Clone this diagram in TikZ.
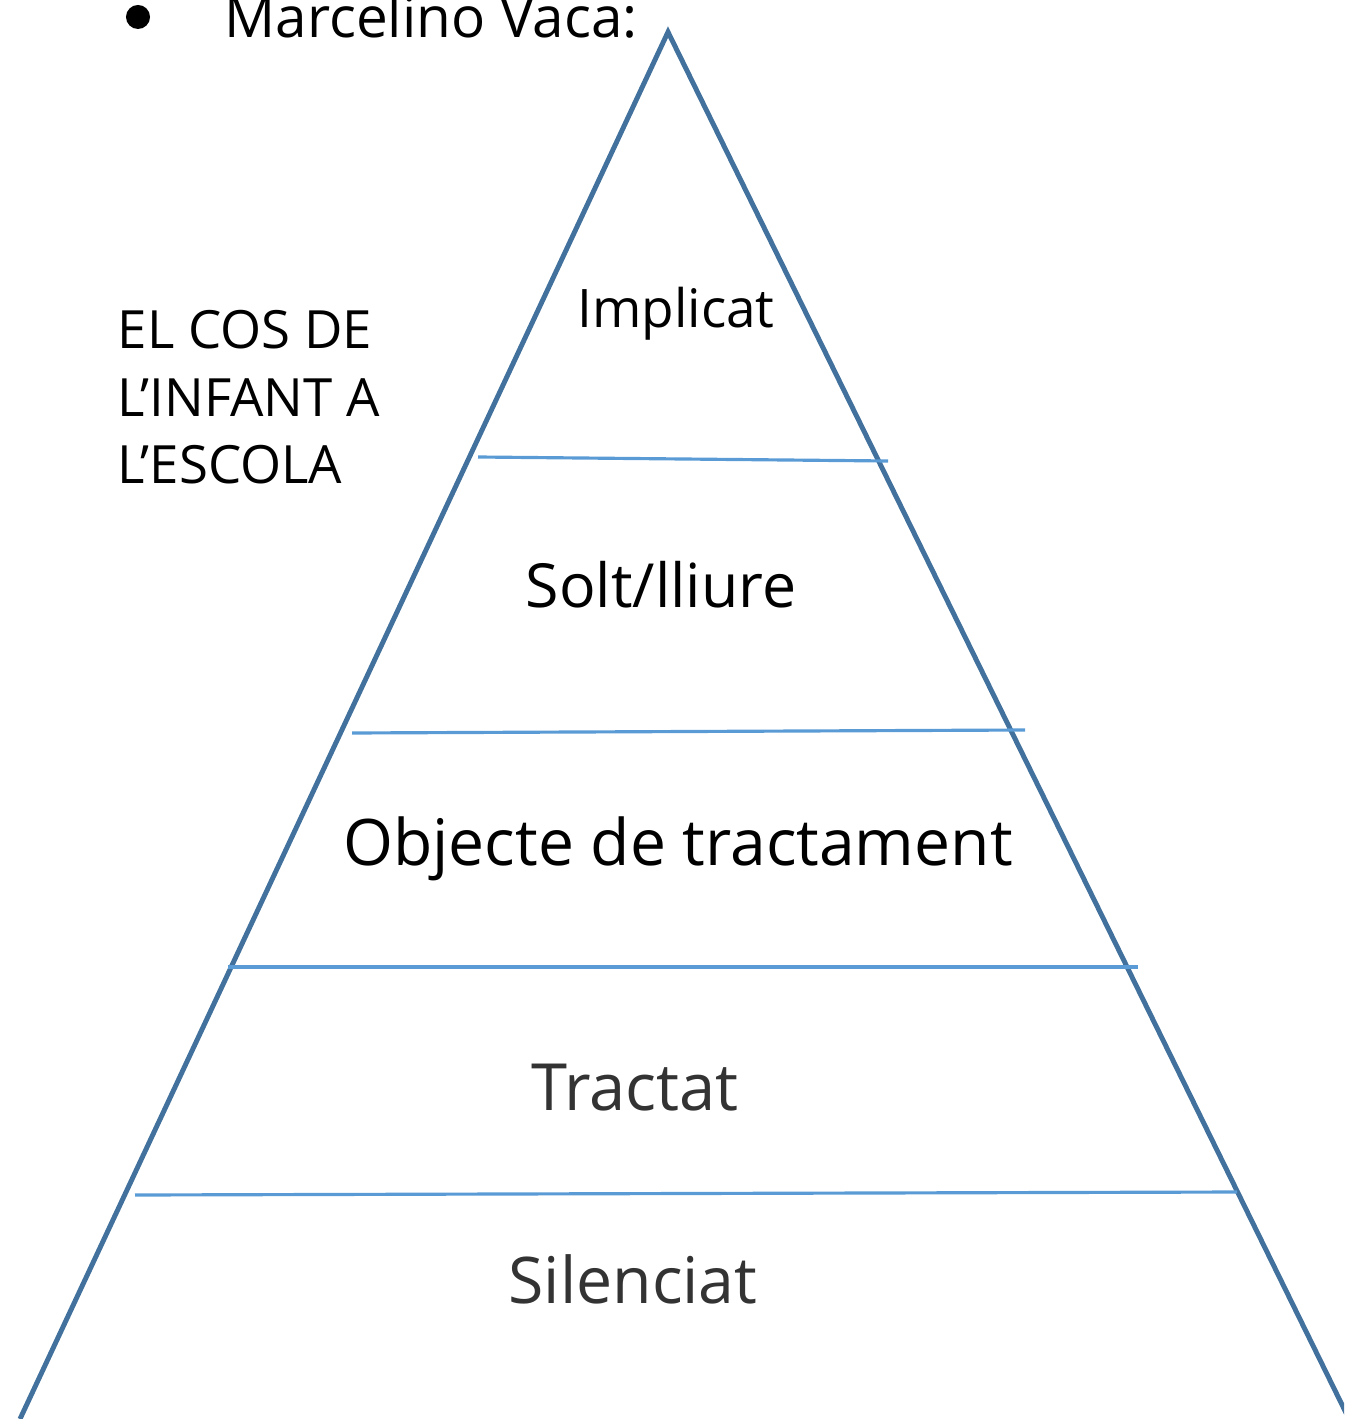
\documentclass[tikz,border=0pt]{standalone}
\usepackage{fontspec}
\setmainfont{Open Sans}
\usetikzlibrary{positioning}
\definecolor{edgeblue}{HTML}{41719C}
\definecolor{stepblue}{HTML}{5B9BD5}
\definecolor{softblack}{HTML}{333333}
\tikzset{side/.style =
   {draw=edgeblue,
    line width=1.4pt}}
\tikzset{divider/.style =
   {draw=stepblue,
    line width=0.9pt}}
\tikzset{level/.style =
   {anchor=base,
    inner sep=0pt}}
\tikzset{title/.style =
   {anchor=base west,
    inner sep=0pt,
    font=\fontsize{15}{19.3}\selectfont,
    align=left}}

\begin{document}
\begin{tikzpicture}[x=0.01cm, y=-0.01cm]

    \useasboundingbox (0,0) rectangle (1344,1419);
    \clip (0,0) rectangle (1344,1419);

    % corners of the pyramid
    \coordinate (apex) at (668,32);
    \coordinate (baseL) at (20,1419);
    \coordinate (baseR) at (1349,1419);

    % ends of the dividers
    \coordinate (d1L) at (478,457);
    \coordinate (d1R) at (888,461);
    \coordinate (d2L) at (352,733);
    \coordinate (d2R) at (1025,730);
    \coordinate (d3L) at (228,967);
    \coordinate (d3R) at (1138,967);
    \coordinate (d4L) at (135,1195);
    \coordinate (d4R) at (1237,1192);

    \draw [side] (baseL) -- (apex) -- (baseR);

    \draw [divider] (d1L) -- (d1R);
    \draw [divider] (d2L) -- (d2R);
    \draw [divider] (d3L) -- (d3R);
    \draw [divider] (d4L) -- (d4R);

    % heading
    \node [circle,
           fill,
           inner sep=0pt,
           minimum size=0.24cm] (bullet) at (138,17) {};
    \node [anchor=base west,
           inner sep=0pt,
           font=\fontsize{16.1}{20}\selectfont] (author) at (224,38) {Marcelino Vaca:};

    \node [title] (topic) at (117,484) {EL COS DE\\L’INFANT A\\L’ESCOLA};

    % levels of the pyramid
    \node [level,
           font=\fontsize{15.1}{20}\selectfont] (implicat) at (676,328) {Implicat};
    \node [level,
           font=\fontsize{17.3}{20}\selectfont] (lliure) at (661,607) {Solt/lliure};
    \node [level,
           font=\fontsize{18.25}{24}\selectfont] (objecte) at (678,865) {Objecte de tractament};
    \node [level,
           text=softblack,
           font=\fontsize{18.5}{24}\selectfont] (tractat) at (635,1110) {Tractat};
    \node [level,
           text=softblack,
           font=\fontsize{18.3}{24}\selectfont] (silenciat) at (633,1303) {Silenciat};

\end{tikzpicture}
\end{document}
